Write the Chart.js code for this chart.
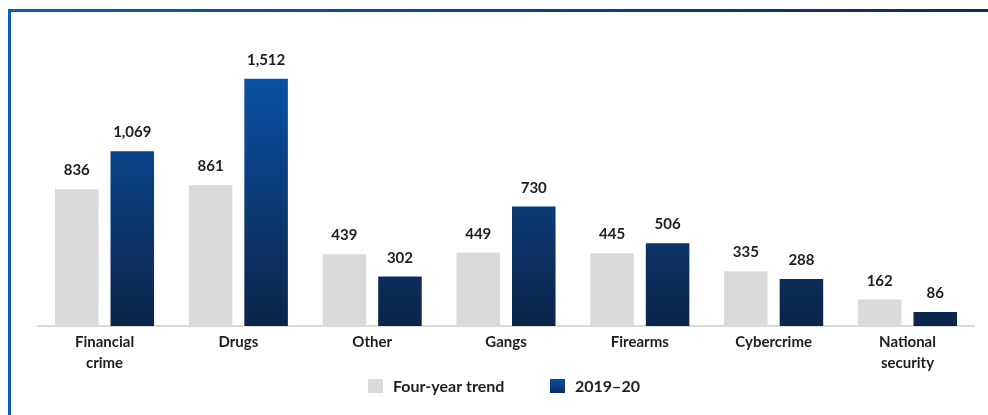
<!DOCTYPE html>
<html>
<head>
<meta charset="utf-8">
<script src="https://cdn.jsdelivr.net/npm/chart.js@4.4.1/dist/chart.umd.min.js"></script>
<style>
  html, body { margin:0; padding:0; background:#fff; }
  #wrap { position:relative; width:988px; height:415px; overflow:hidden; }
  #frameTop { position:absolute; left:8px; top:9px; width:980px; height:3px;
              background:linear-gradient(to right, #0d5cb5, #0a2c5a); }
  #frameLeft { position:absolute; left:8px; top:9px; width:3px; height:406px; background:#0d5cb5; }
  canvas { position:absolute; left:0; top:0; }
</style>
</head>
<body>
<div id="wrap">
  <canvas id="chart" width="988" height="415"></canvas>
  <div id="frameTop"></div>
  <div id="frameLeft"></div>
</div>
<script>
const categories = [['Financial','crime'], 'Drugs', 'Other', 'Gangs', 'Firearms', 'Cybercrime', ['National','security']];
const trendValues = [836, 861, 439, 449, 445, 335, 162];
const yearValues = [1069, 1512, 302, 730, 506, 288, 86];
const seriesNames = ['Four-year trend', '2019\u201320'];

const FONT = 'Lato, "Open Sans", sans-serif';
const TEXT = '#1e1e1e';
const GREY = '#d9dadc';

// vertical blue fade over the plot area, bright at the top
function blueFade(ctx, top, bottom) {
  const g = ctx.createLinearGradient(0, top, 0, bottom);
  g.addColorStop(0, '#0a56ad');
  g.addColorStop(0.15, '#0a4f9f');
  g.addColorStop(1, '#0c2449');
  return g;
}

const valueLabels = {
  id: 'valueLabels',
  afterDatasetsDraw(chart) {
    const ctx = chart.ctx;
    ctx.save();
    ctx.font = 'bold 15px ' + FONT;
    ctx.fillStyle = TEXT;
    ctx.textAlign = 'center';
    ctx.textBaseline = 'alphabetic';
    chart.data.datasets.forEach((ds, di) => {
      chart.getDatasetMeta(di).data.forEach((bar, i) => {
        ctx.fillText(ds.data[i].toLocaleString('en-US'), bar.x, bar.y - 14);
      });
    });
    ctx.restore();
  }
};

// legend row under the axis labels
const bottomLegend = {
  id: 'bottomLegend',
  afterDraw(chart) {
    const ctx = chart.ctx;
    const cy = 386;
    ctx.save();
    ctx.font = 'bold 16px ' + FONT;
    ctx.fillStyle = TEXT;
    ctx.textBaseline = 'middle';
    const items = [
      { x: 368, fill: GREY },
      { x: 550, fill: (() => {
          const g = ctx.createLinearGradient(0, cy - 7, 0, cy + 7);
          g.addColorStop(0, '#0a4fa1');
          g.addColorStop(1, '#0b2d60');
          return g;
        })() }
    ];
    items.forEach((it, i) => {
      ctx.fillStyle = it.fill;
      ctx.fillRect(it.x, cy - 7, 15, 14);
      ctx.fillStyle = TEXT;
      ctx.fillText(seriesNames[i], it.x + 25, cy + 1);
    });
    ctx.restore();
  }
};

new Chart(document.getElementById('chart'), {
  type: 'bar',
  data: {
    labels: categories,
    datasets: [
      { label: seriesNames[0], data: trendValues, backgroundColor: GREY },
      { label: seriesNames[1], data: yearValues, backgroundColor: c => {
          const a = c.chart.chartArea;
          return a ? blueFade(c.chart.ctx, a.top, a.bottom) : '#0c3f85';
        } }
    ]
  },
  options: {
    responsive: false,
    animation: false,
    layout: { padding: { left: 37.6, right: 13.6, top: 48, bottom: 35 } },
    datasets: { bar: { categoryPercentage: 0.83, barPercentage: 0.784 } },
    scales: {
      x: {
        grid: { display: false, drawTicks: false },
        border: { color: '#d9d9d9', width: 2 },
        ticks: { color: TEXT, font: { family: FONT, size: 15, weight: 'bold', lineHeight: 1.4 }, padding: 6 }
      },
      y: { display: false, min: 0, max: 1700 }
    },
    plugins: {
      tooltip: { enabled: false },
      legend: { display: false }
    }
  },
  plugins: [valueLabels, bottomLegend]
});
</script>
</body>
</html>
